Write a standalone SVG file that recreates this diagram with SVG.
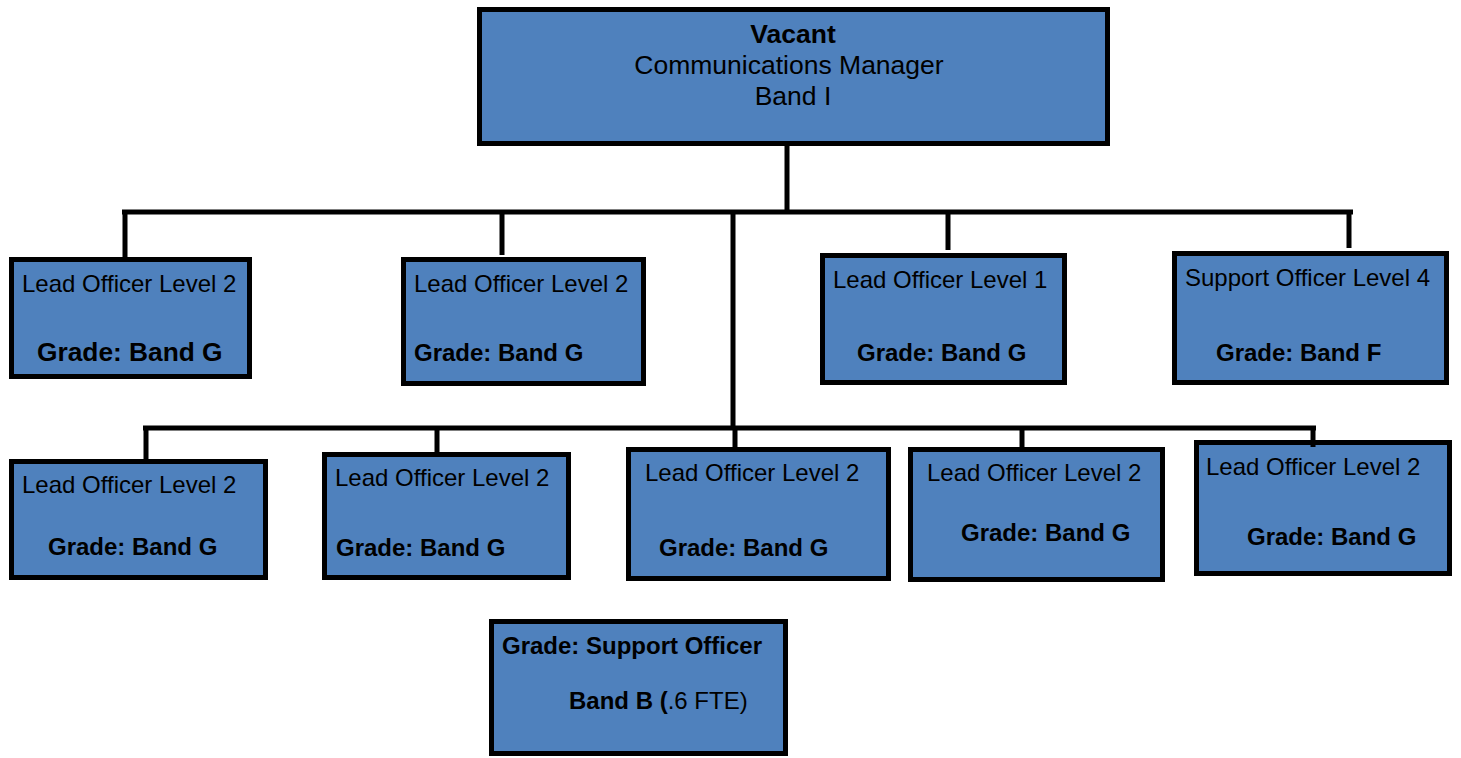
<svg xmlns="http://www.w3.org/2000/svg" width="1461" height="758" viewBox="0 0 1461 758">
<style>
.box{fill:#4f81bd;stroke:#000;stroke-width:5}
.t{font-family:"Liberation Sans",Arial,sans-serif;font-size:24px;fill:#000}
.b{font-family:"Liberation Sans",Arial,sans-serif;font-size:24px;font-weight:bold;fill:#000}
.big{font-size:26.3px}
.top{font-family:"Liberation Sans",Arial,sans-serif;font-size:26.5px;fill:#000;text-anchor:middle}
.c{stroke:#000;stroke-width:5;fill:none}
</style>
<rect width="1461" height="758" fill="#fff"/>
<g id="manager">
<rect class="box" x="479.5" y="9.5" width="628" height="134"/>
<text class="top" x="793" y="43" font-weight="bold">Vacant</text>
<text class="top" x="789" y="74">Communications Manager</text>
<text class="top" x="793" y="105">Band I</text>
</g>
<g id="r1b1">
<rect class="box" x="11.5" y="259.5" width="238" height="117"/>
<text class="t" x="22" y="292">Lead Officer Level 2</text>
<text class="b big" x="37" y="361">Grade: Band G</text>
</g>
<g id="r1b2">
<rect class="box" x="403.5" y="259.5" width="240" height="124"/>
<text class="t" x="414" y="292">Lead Officer Level 2</text>
<text class="b" x="414" y="361">Grade: Band G</text>
</g>
<g id="r1b3">
<rect class="box" x="822.5" y="255.5" width="242" height="127"/>
<text class="t" x="833" y="288">Lead Officer Level 1</text>
<text class="b" x="857" y="361">Grade: Band G</text>
</g>
<g id="r1b4">
<rect class="box" x="1174.5" y="253.5" width="272" height="129"/>
<text class="t" x="1185" y="286">Support Officer Level 4</text>
<text class="b" x="1216" y="361">Grade: Band F</text>
</g>
<g id="r2b1">
<rect class="box" x="11.5" y="461.5" width="254" height="116"/>
<text class="t" x="22" y="493">Lead Officer Level 2</text>
<text class="b" x="48" y="555">Grade: Band G</text>
</g>
<g id="r2b2">
<rect class="box" x="324.5" y="454.5" width="244" height="123"/>
<text class="t" x="335" y="486">Lead Officer Level 2</text>
<text class="b" x="336" y="556">Grade: Band G</text>
</g>
<g id="r2b3">
<rect class="box" x="628.5" y="449.5" width="260" height="129"/>
<text class="t" x="645" y="481">Lead Officer Level 2</text>
<text class="b" x="659" y="556">Grade: Band G</text>
</g>
<g id="r2b4">
<rect class="box" x="910.5" y="449.5" width="252" height="130"/>
<text class="t" x="927" y="481">Lead Officer Level 2</text>
<text class="b" x="961" y="541">Grade: Band G</text>
</g>
<g id="r2b5">
<rect class="box" x="1196.5" y="442.5" width="253" height="131"/>
<text class="t" x="1206" y="475">Lead Officer Level 2</text>
<text class="b" x="1247" y="545">Grade: Band G</text>
</g>
<g id="support">
<rect class="box" x="491.5" y="621.5" width="294" height="132"/>
<text class="b" x="502" y="654">Grade: Support Officer</text>
<text class="b" x="569" y="709">Band B (<tspan font-weight="normal">.6 FTE)</tspan></text>
</g>
<g id="connectors">
<path class="c" d="M787 146V212M122 212H1353M125 212V258M502 212V255M948 212V250M1349 212V248M733 212V428M143 428H1316M146 428V459M437 428V452M735 428V447M1022 428V447M1313 428V447"/>
</g>
</svg>
